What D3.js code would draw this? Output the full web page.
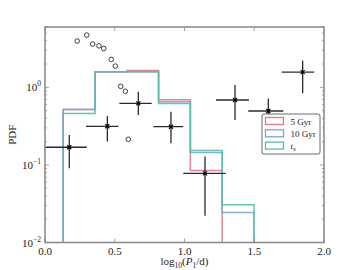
<!DOCTYPE html>
<html>
<head>
<meta charset="utf-8">
<script src="https://cdn.jsdelivr.net/npm/d3@7/dist/d3.min.js"></script>
<style>
body { margin: 0; background: #fff; }
text { font-family: "Liberation Serif", "DejaVu Serif", serif; fill: #222; }
</style>
</head>
<body>
<div id="chart"></div>
<script>
// histogram bin edges (log10 P1/d)
var edges = [0.131, 0.359, 0.587, 0.814, 1.042, 1.270, 1.498];
// PDF per bin for each model
var pdf5 = [0.52, 1.59, 1.65, 0.69, 0.0845, 0];
var pdf10 = [0.52, 1.59, 1.59, 0.65, 0.145, 0.0243];
var pdfTx = [0.46, 1.59, 1.59, 0.62, 0.153, 0.0306];

// observed points with error bars
var obsX = [0.174, 0.447, 0.669, 0.903, 1.147, 1.362, 1.601, 1.847];
var obsY = [0.169, 0.315, 0.622, 0.311, 0.078, 0.687, 0.496, 1.57];
var obsXlo = [0.0, 0.294, 0.533, 0.776, 0.991, 1.226, 1.457, 1.697];
var obsXhi = [0.299, 0.526, 0.765, 0.991, 1.295, 1.462, 1.708, 1.93];
var obsYlo = [0.0907, 0.2, 0.44, 0.19, 0.0221, 0.38, 0.3, 0.84];
var obsYhi = [0.243, 0.427, 0.877, 0.485, 0.128, 1.07, 0.72, 2.2];

// open circles
var circX = [0.231, 0.299, 0.342, 0.387, 0.421, 0.475, 0.504, 0.543, 0.576, 0.597];
var circY = [3.95, 4.72, 3.61, 3.43, 3.17, 2.29, 1.88, 1.03, 0.89, 0.214];

var xTicks = [0.0, 0.5, 1.0, 1.5, 2.0];
var yTicks = [0.01, 0.1, 1];
var yExp = ["\u22122", "\u22121", "0"];

var legendLabels = ["5 Gyr", "10 Gyr", "t"];

var W = 360, H = 270;
var m = {top: 27, right: 36, bottom: 27.5, left: 45};
var w = W - m.left - m.right, h = H - m.top - m.bottom;

var colors = ["#e0788a", "#7ba3dc", "#55bfa8"];
var frame = "#8c8c8c";

var svg = d3.select("#chart").append("svg")
	.attr("width", W)
	.attr("height", H);

var g = svg.append("g").attr("transform", "translate(" + m.left + "," + m.top + ")");

var x = d3.scaleLinear().domain([0, 2]).range([0, w]);
var y = d3.scaleLog().domain([0.01, 6]).range([h, 0]);

g.append("clipPath").attr("id", "clip")
	.append("rect").attr("width", w).attr("height", h);

var plot = g.append("g").attr("clip-path", "url(#clip)");

// step histograms
function stepPoints(vals) {
	var pts = [[edges[0], 0.001]];
	vals.forEach(function(v, i) {
		var vv = v > 0 ? v : 0.001;
		pts.push([edges[i], vv]);
		pts.push([edges[i + 1], vv]);
	});
	pts.push([edges[edges.length - 1], 0.001]);
	return pts;
}
var line = d3.line()
	.x(function(d) { return x(d[0]); })
	.y(function(d) { return y(d[1]); });

[pdf5, pdf10, pdfTx].forEach(function(vals, i) {
	plot.append("path")
		.attr("d", line(stepPoints(vals)))
		.style("fill", "none")
		.style("stroke", colors[i])
		.style("stroke-width", 1.5)
		.style("opacity", 0.9);
});

// open circles
plot.selectAll(".circ")
	.data(circX)
	.enter().append("circle")
	.attr("cx", function(d) { return x(d); })
	.attr("cy", function(d, i) { return y(circY[i]); })
	.attr("r", 2.3)
	.style("fill", "none")
	.style("stroke", "#111")
	.style("stroke-width", 0.8);

// error bars
var eb = plot.selectAll(".eb")
	.data(obsX)
	.enter().append("g");
eb.append("line")
	.attr("x1", function(d, i) { return x(obsXlo[i]); })
	.attr("x2", function(d, i) { return x(obsXhi[i]); })
	.attr("y1", function(d, i) { return y(obsY[i]); })
	.attr("y2", function(d, i) { return y(obsY[i]); })
	.style("stroke", "#2a2a2a").style("stroke-width", 1.3);
eb.append("line")
	.attr("x1", function(d) { return x(d); })
	.attr("x2", function(d) { return x(d); })
	.attr("y1", function(d, i) { return y(obsYlo[i]); })
	.attr("y2", function(d, i) { return y(obsYhi[i]); })
	.style("stroke", "#2a2a2a").style("stroke-width", 1.3);
eb.append("path")
	.attr("d", function(d, i) {
		var cx = x(d), cy = y(obsY[i]), s = 2;
		return "M" + (cx - s) + "," + (cy - s) + "L" + (cx + s) + "," + (cy + s) +
			"M" + (cx - s) + "," + (cy + s) + "L" + (cx + s) + "," + (cy - s);
	})
	.style("stroke", "#000").style("stroke-width", 1.2);

// ticks (inward, on all sides)
var minor = [];
[0.01, 0.1, 1].forEach(function(b) {
	for (var k = 2; k <= 9; k++) { if (b * k <= 6) minor.push(b * k); }
});
var tk = g.append("g").style("stroke", frame).style("stroke-width", 0.8);
xTicks.forEach(function(t) {
	tk.append("line").attr("x1", x(t)).attr("x2", x(t)).attr("y1", h).attr("y2", h - 4);
	tk.append("line").attr("x1", x(t)).attr("x2", x(t)).attr("y1", 0).attr("y2", 4);
});
yTicks.forEach(function(t) {
	tk.append("line").attr("x1", 0).attr("x2", 4).attr("y1", y(t)).attr("y2", y(t));
	tk.append("line").attr("x1", w).attr("x2", w - 4).attr("y1", y(t)).attr("y2", y(t));
});
minor.forEach(function(t) {
	tk.append("line").attr("x1", 0).attr("x2", 2).attr("y1", y(t)).attr("y2", y(t));
	tk.append("line").attr("x1", w).attr("x2", w - 2).attr("y1", y(t)).attr("y2", y(t));
});

// frame
g.append("rect").attr("width", w).attr("height", h)
	.style("fill", "none").style("stroke", frame).style("stroke-width", 1.6);

// tick labels
xTicks.forEach(function(t) {
	g.append("text").attr("x", x(t)).attr("y", h + 12)
		.attr("text-anchor", "middle").style("font-size", "11px")
		.text(t.toFixed(1));
});
yTicks.forEach(function(t, i) {
	var tx = g.append("text").attr("x", -4).attr("y", y(t) + 4)
		.attr("text-anchor", "end").style("font-size", "11px");
	tx.append("tspan").text("10");
	tx.append("tspan").attr("dy", -5).style("font-size", "7.5px").text(yExp[i]);
});

// axis labels
var xl = g.append("text").attr("x", w / 2).attr("y", h + 22.5)
	.attr("text-anchor", "middle").style("font-size", "11px");
xl.append("tspan").text("log");
xl.append("tspan").attr("dy", 2.5).style("font-size", "7.5px").text("10");
xl.append("tspan").attr("dy", -2.5).text("(");
xl.append("tspan").style("font-style", "italic").text("P");
xl.append("tspan").attr("dy", 2.5).style("font-size", "7.5px").text("1");
xl.append("tspan").attr("dy", -2.5).text("/d)");

g.append("text")
	.attr("transform", "translate(" + (-29) + "," + (h / 2) + ") rotate(-90)")
	.attr("text-anchor", "middle").style("font-size", "11px")
	.text("PDF");

// legend
var lg = svg.append("g").attr("transform", "translate(262,114)");
lg.append("rect").attr("width", 58).attr("height", 40).attr("rx", 2)
	.style("fill", "#fff").style("stroke", "#444").style("stroke-width", 0.8);
legendLabels.forEach(function(lab, i) {
	var yy = 7 + i * 12.3;
	lg.append("rect").attr("x", 3.5).attr("y", yy - 3.5).attr("width", 18).attr("height", 7)
		.style("fill", "none").style("stroke", colors[i]).style("stroke-width", 1.3);
	var t = lg.append("text").attr("x", 28.5).attr("y", yy + 3.5).style("font-size", "9px");
	if (i == 2) {
		t.append("tspan").style("font-style", "italic").text(lab);
		t.append("tspan").attr("dy", 2).style("font-size", "6.5px").style("font-style", "italic").text("x");
	} else {
		t.text(lab);
	}
});
</script>
</body>
</html>
